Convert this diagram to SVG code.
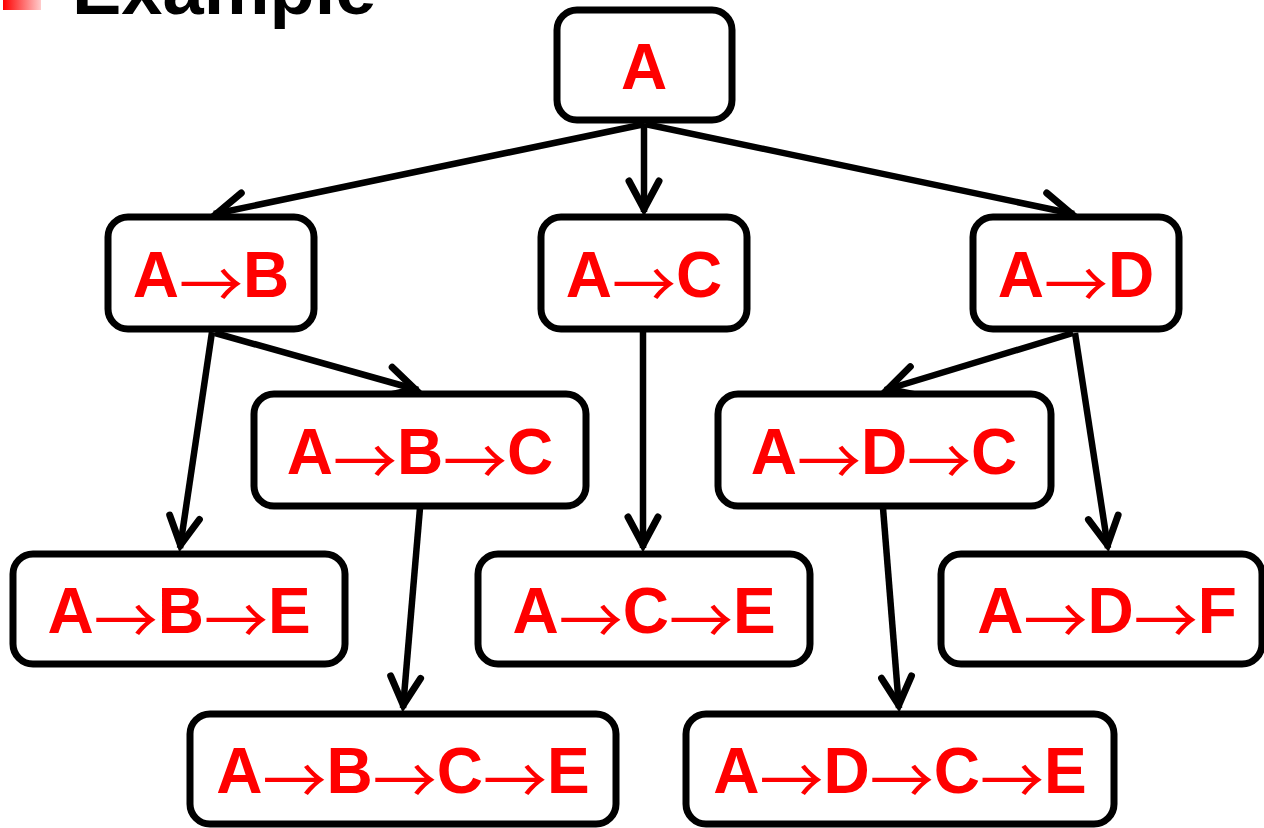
<svg xmlns="http://www.w3.org/2000/svg" width="1264" height="828" viewBox="0 0 1264 828">
<defs>
<linearGradient id="bul" x1="0" y1="0" x2="1" y2="0">
<stop offset="0" stop-color="#ff0000"/>
<stop offset="1" stop-color="#ffcccc"/>
</linearGradient>
<marker id="arr" markerUnits="userSpaceOnUse" markerWidth="60" markerHeight="60" refX="0" refY="0" viewBox="-40 -30 60 60" orient="auto" overflow="visible">
<path d="M-31,-15 L-3,0 L-31,15" fill="none" stroke="#000" stroke-width="7" stroke-linecap="round" stroke-linejoin="miter"/>
</marker>
<style>
.node rect{fill:#fff;stroke:#000;stroke-width:7}
.node text{font-family:"Liberation Sans",Arial,sans-serif;font-weight:bold;font-size:64px;fill:#ff0000;text-anchor:middle}
.ar{font-family:"Noto Sans CJK SC","Liberation Sans",sans-serif;font-weight:normal;font-size:64px}
.edge{stroke:#000;stroke-width:6.5;fill:none;marker-end:url(#arr)}
</style>
</defs>
<rect width="1264" height="828" fill="#fff"/>
<g id="title">
<rect x="3" y="0" width="38" height="10" fill="url(#bul)"/>
<text x="72" y="14" font-family="Liberation Sans,Arial,sans-serif" font-weight="bold" font-size="74" fill="#000">Example</text>
</g>
<g id="connectors">
<line class="edge" x1="645" y1="124" x2="214" y2="214"/>
<line class="edge" x1="644" y1="124" x2="644" y2="212"/>
<line class="edge" x1="645" y1="124" x2="1074" y2="214"/>
<line class="edge" x1="212" y1="332" x2="180" y2="548"/>
<line class="edge" x1="215" y1="333" x2="418" y2="390"/>
<line class="edge" x1="643" y1="332" x2="643" y2="548"/>
<line class="edge" x1="1073" y1="333" x2="885" y2="390"/>
<line class="edge" x1="1075" y1="333" x2="1108" y2="548"/>
<line class="edge" x1="420" y1="508" x2="403" y2="708"/>
<line class="edge" x1="883" y1="508" x2="899" y2="708"/>
</g>
<g id="nA" class="node"><rect x="557" y="10" width="175" height="110" rx="20"/><text x="644" y="89">A</text></g>
<g id="nAB" class="node"><rect x="108" y="217" width="206" height="112" rx="20"/><text x="211" y="297">A<tspan class="ar" dy="11">→</tspan><tspan dy="-11">B</tspan></text></g>
<g id="nAC" class="node"><rect x="541" y="217" width="206" height="112" rx="20"/><text x="644" y="297">A<tspan class="ar" dy="11">→</tspan><tspan dy="-11">C</tspan></text></g>
<g id="nAD" class="node"><rect x="973" y="217" width="206" height="112" rx="20"/><text x="1076" y="297">A<tspan class="ar" dy="11">→</tspan><tspan dy="-11">D</tspan></text></g>
<g id="nABC" class="node"><rect x="254" y="394" width="332" height="112" rx="20"/><text x="420" y="474">A<tspan class="ar" dy="11">→</tspan><tspan dy="-11">B</tspan><tspan class="ar" dy="11">→</tspan><tspan dy="-11">C</tspan></text></g>
<g id="nADC" class="node"><rect x="718" y="394" width="333" height="112" rx="20"/><text x="884" y="474">A<tspan class="ar" dy="11">→</tspan><tspan dy="-11">D</tspan><tspan class="ar" dy="11">→</tspan><tspan dy="-11">C</tspan></text></g>
<g id="nABE" class="node"><rect x="13" y="554" width="332" height="110" rx="20"/><text x="179" y="633">A<tspan class="ar" dy="11">→</tspan><tspan dy="-11">B</tspan><tspan class="ar" dy="11">→</tspan><tspan dy="-11">E</tspan></text></g>
<g id="nACE" class="node"><rect x="478" y="554" width="332" height="110" rx="20"/><text x="644" y="633">A<tspan class="ar" dy="11">→</tspan><tspan dy="-11">C</tspan><tspan class="ar" dy="11">→</tspan><tspan dy="-11">E</tspan></text></g>
<g id="nADF" class="node"><rect x="941" y="554" width="321" height="110" rx="20"/><text x="1107" y="633">A<tspan class="ar" dy="11">→</tspan><tspan dy="-11">D</tspan><tspan class="ar" dy="11">→</tspan><tspan dy="-11">F</tspan></text></g>
<g id="nABCE" class="node"><rect x="190" y="714" width="426" height="110" rx="20"/><text x="403" y="793">A<tspan class="ar" dy="11">→</tspan><tspan dy="-11">B</tspan><tspan class="ar" dy="11">→</tspan><tspan dy="-11">C</tspan><tspan class="ar" dy="11">→</tspan><tspan dy="-11">E</tspan></text></g>
<g id="nADCE" class="node"><rect x="686" y="714" width="428" height="110" rx="20"/><text x="900" y="793">A<tspan class="ar" dy="11">→</tspan><tspan dy="-11">D</tspan><tspan class="ar" dy="11">→</tspan><tspan dy="-11">C</tspan><tspan class="ar" dy="11">→</tspan><tspan dy="-11">E</tspan></text></g>
</svg>
